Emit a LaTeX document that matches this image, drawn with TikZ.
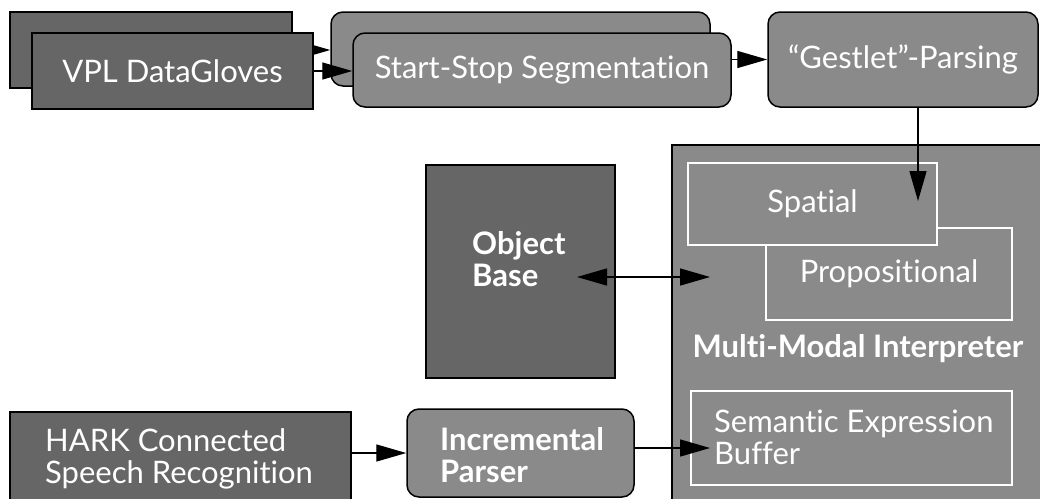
\documentclass[tikz,border=0pt]{standalone}
\usepackage{fontspec}
\setmainfont{Lato}[RawFeature={-liga;-dlig;-clig}]
\usetikzlibrary{arrows.meta}
\definecolor{darkbox}{HTML}{666666}
\definecolor{midbox}{HTML}{8A8A8A}
\tikzset{
  sz/.style n args={2}{minimum width=#1, minimum height=#2},
  dark/.style={draw=black, line width=1.5pt, fill=darkbox, inner sep=0pt, text=white,
    font=\fontsize{31}{32}\selectfont},
  mid/.style={dark, fill=midbox, rounded corners=12pt},
  flat/.style={dark, fill=midbox},
  sub/.style={draw=white, line width=1.3pt, fill=midbox, inner sep=0pt, text=white,
    font=\fontsize{31}{32}\selectfont},
  txt/.style={text=white, inner sep=0pt, align=left, anchor=west,
    font=\fontsize{31}{32}\selectfont},
  btxt/.style={txt, font=\fontsize{31}{32}\selectfont\bfseries},
  arr/.style={draw=black, line width=1.4pt, -{Triangle[length=30pt,width=17pt]}},
  arrboth/.style={draw=black, line width=1.4pt,
    {Triangle[length=30pt,width=17pt]}-{Triangle[length=30pt,width=17pt]}},
}
\begin{document}
\begin{tikzpicture}[x=1pt,y=-1pt]
\useasboundingbox (0,0) rectangle (1040,498);
\clip (0,0) rectangle (1040,498);

% glove input and segmentation (stacked channels)
\node[dark, sz={282pt}{76pt}] (gb) at (151,50) {};
\node[mid, sz={379pt}{74pt}] (sb) at (520.5,49) {};
\draw[arr] (gb.east) -- (sb.west |- gb.east);
\node[dark, sz={281pt}{76pt}] (gf) at (172.5,71) {VPL DataGloves};
\node[mid, sz={378pt}{74pt}] (sf) at (542,70) {\raisebox{-3pt}{Start-Stop Segmentation}};
\draw[arr] (gf.east) -- (sf.west |- gf.east);

% gesture parsing
\node[mid, sz={270pt}{95pt}] (gp) at (903,59.5) {“Gestlet”-Parsing};
\draw[arr] (sf.east |- gp.west) -- (gp.west);

% interpreter
\node[flat, sz={388pt}{375pt}] (mmi) at (866,332.5) {};
\node[sub, sz={246pt}{92pt}] (prop) at (889,274) {Propositional};
\node[sub, sz={249pt}{82pt}] (spat) at (812.5,204) {Spatial};
\coordinate (spin) at (918,201);
\draw[arr] (gp.south -| spin) -- (spin);
\node[btxt, anchor=center] (mmil) at (858,349) {Multi-Modal Interpreter};
\node[sub, sz={321pt}{94pt}] (seb) at (851.5,438) {};
\node[txt] (sebl) at (714,437) {Semantic Expression\\Buffer};

% object base
\node[dark, sz={189pt}{213pt}] (ob) at (520.5,271.5) {};
\node[btxt] (obl) at (472,259) {Object\\Base};
\coordinate (obin) at (577,277);
\coordinate (mmin) at (710,277);
\draw[arrboth] (obin) -- (mmin);

% speech path
\node[dark, sz={341pt}{108pt}] (hark) at (180.5,466) {};
\node[txt] (harkl) at (45,459) {HARK Connected\\Speech Recognition};
\node[mid, sz={227pt}{88pt}] (ip) at (520.5,453) {};
\node[btxt] (ipl) at (440,455) {Incremental\\Parser};
\coordinate (sebin) at (710,448);
\draw[arr] (hark.east |- ip.west) -- (ip.west);
\draw[arr] (ip.east |- sebin) -- (sebin);
\end{tikzpicture}
\end{document}
